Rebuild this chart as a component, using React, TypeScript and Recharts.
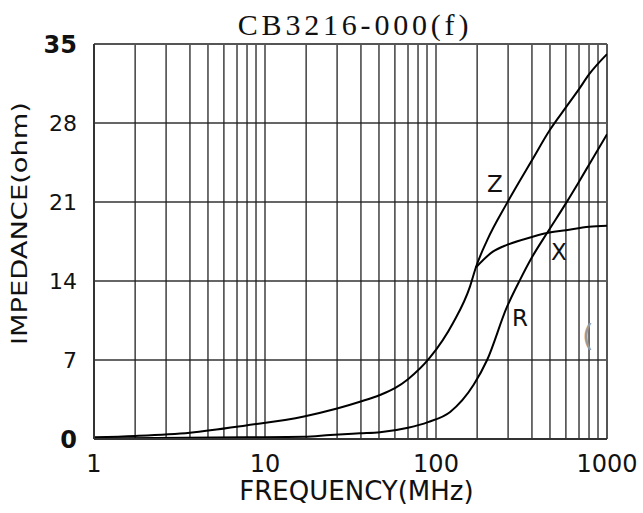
import React from "react";
import {
  LineChart,
  Line,
  XAxis,
  YAxis,
  CartesianGrid,
  ReferenceLine,
  ReferenceDot,
} from "recharts";

// Z (|Z|) curve, ohm vs MHz; below ~170 MHz Z and X share one trace
const zFreq = [1, 1.74, 3.64, 7.74, 16.9, 26.4, 35.9, 47, 57.5, 68.6, 92, 126, 158, 171, 199, 260, 364, 464, 576, 686, 785, 1000];
const zImp = [0.15, 0.27, 0.56, 1.2, 2.0, 2.7, 3.3, 3.9, 4.5, 5.3, 7.2, 10.3, 13.5, 15.2, 17.6, 20.9, 24.7, 27.4, 29.4, 31.0, 32.3, 34.1];

// X branch after the split
const xFreq = [171, 215, 260, 364, 446, 576, 785, 1000];
const xImp = [15.2, 16.6, 17.2, 17.9, 18.25, 18.5, 18.8, 18.9];

// R curve
const rFreq = [1, 7.74, 16.9, 24, 35.9, 47, 68.6, 89.8, 121, 166, 199, 260, 310, 364, 446, 576, 686, 785, 1000];
const rImp = [0.05, 0.15, 0.2, 0.35, 0.5, 0.6, 1.0, 1.5, 2.4, 4.8, 7.0, 11.7, 14.1, 16.1, 18.25, 20.9, 22.8, 24.3, 27.0];

const xTicks = [1, 10, 100, 1000];
const yTicks = [0, 7, 14, 21, 28, 35];
const decades = [1, 10, 100];
// where the minor grid lines sit inside each decade
const gridSteps = [1.74, 2.64, 3.64, 4.64, 5.75, 6.86, 7.85, 8.86];

const curveLabels = [
  { name: "Z", f: 221, v: 22.6 },
  { name: "X", f: 524, v: 16.6 },
  { name: "R", f: 310, v: 10.7 },
];

const toRows = (fs: number[], vs: number[]) => fs.map((f, i) => ({ f, imp: vs[i] }));

const zData = toRows(zFreq, zImp);
const xData = toRows(xFreq, xImp);
const rData = toRows(rFreq, rImp);

const gridX = decades.flatMap((d) => gridSteps.map((s) => d * s)).concat([10, 100]);

const SANS = "DejaVu Sans, Verdana, sans-serif";

function YTick(props: any) {
  const { x, y, payload } = props;
  const strong = payload.value === 35 || payload.value === 0;
  return (
    <text
      x={x}
      y={y}
      dy="0.36em"
      textAnchor="end"
      fontFamily={SANS}
      fontSize={strong ? 24 : 22}
      fontWeight={strong ? 700 : 400}
      fill="#111"
    >
      {payload.value}
    </text>
  );
}

function YTitle(props: any) {
  const vb = props.viewBox || {};
  const cx = 20;
  const cy = (vb.y ?? 44) + (vb.height ?? 395) / 2 - 18;
  return (
    <text
      x={cx}
      y={cy}
      transform={`rotate(-90 ${cx} ${cy})`}
      textAnchor="middle"
      dominantBaseline="central"
      fontFamily={SANS}
      fontSize={21}
      textLength={243}
      lengthAdjust="spacingAndGlyphs"
      fill="#111"
    >
      IMPEDANCE(ohm)
    </text>
  );
}

export default function App() {
  return (
    <div
      style={{
        position: "absolute",
        left: 0,
        top: 0,
        width: 643,
        height: 513,
        background: "#fff",
      }}
    >
      <div
        style={{
          position: "absolute",
          left: 355,
          top: 10,
          transform: "translateX(-50%)",
          whiteSpace: "nowrap",
          fontFamily: "Liberation Serif, serif",
          fontSize: 30,
          lineHeight: "30px",
          letterSpacing: 3.8,
          color: "#111",
        }}
      >
        CB3216-000(f)
      </div>
      <LineChart
        width={643}
        height={513}
        margin={{ top: 44, right: 36, left: 0, bottom: 0 }}
      >
        <CartesianGrid vertical={false} stroke="#333" strokeWidth={1.5} />
        <XAxis
          type="number"
          dataKey="f"
          scale="log"
          domain={[1, 1000]}
          ticks={xTicks}
          allowDataOverflow
          height={74}
          axisLine={{ stroke: "#333", strokeWidth: 2 }}
          tickLine={false}
          tickSize={6}
          tickMargin={10}
          tick={{ fontSize: 24, fontFamily: SANS, fill: "#111" }}
          label={{
            value: "FREQUENCY(MHz)",
            position: "insideBottom",
            offset: 13,
            dx: 6,
            fontSize: 26,
            fontFamily: SANS,
            fill: "#111",
          }}
        />
        <YAxis
          type="number"
          domain={[0, 35]}
          ticks={yTicks}
          width={94}
          axisLine={{ stroke: "#333", strokeWidth: 2 }}
          tickLine={false}
          tickSize={6}
          tickMargin={11}
          tick={<YTick />}
          label={<YTitle />}
        />
        {gridX.map((v) => (
          <ReferenceLine key={v} x={v} stroke="#222" strokeWidth={1.3} />
        ))}
        <ReferenceLine x={1000} stroke="#555" strokeWidth={2} />
        <ReferenceLine y={35} stroke="#555" strokeWidth={2} />
        <Line
          data={zData}
          dataKey="imp"
          type="monotone"
          stroke="#000"
          strokeWidth={2}
          dot={false}
          isAnimationActive={false}
        />
        <Line
          data={xData}
          dataKey="imp"
          type="monotone"
          stroke="#000"
          strokeWidth={2}
          dot={false}
          isAnimationActive={false}
        />
        <Line
          data={rData}
          dataKey="imp"
          type="monotone"
          stroke="#000"
          strokeWidth={2}
          dot={false}
          isAnimationActive={false}
        />
        {curveLabels.map((c) => (
          <ReferenceDot
            key={c.name}
            x={c.f}
            y={c.v}
            r={0}
            fill="none"
            stroke="none"
            label={{
              value: c.name,
              position: "center",
              fontSize: 23,
              fontFamily: SANS,
              fill: "#111",
            }}
          />
        ))}
        <ReferenceDot
          x={774}
          y={9.2}
          r={0}
          fill="none"
          stroke="none"
          label={{
            value: "(",
            position: "center",
            fontSize: 30,
            fontFamily: SANS,
            fill: "#999",
          }}
        />
      </LineChart>
    </div>
  );
}
